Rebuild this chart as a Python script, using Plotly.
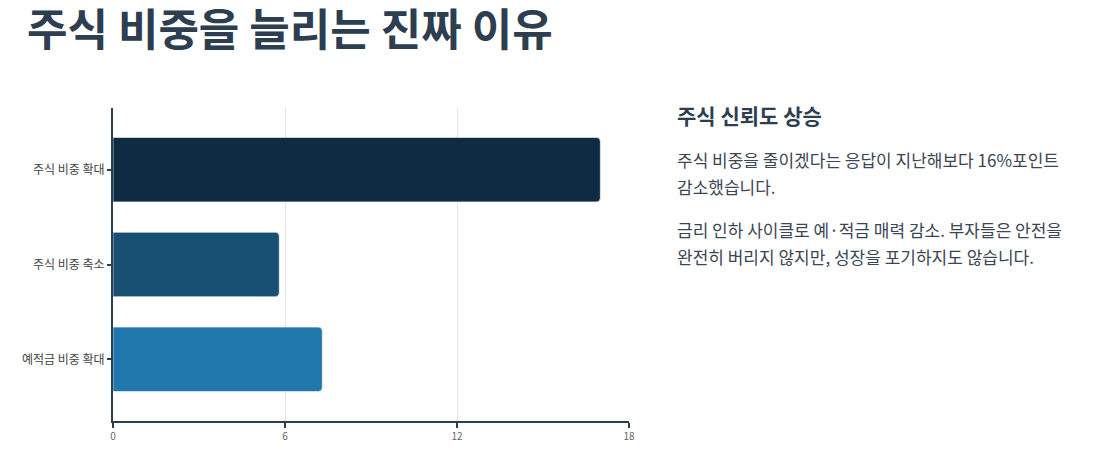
import plotly.graph_objects as go

categories = ["주식 비중 확대", "주식 비중 축소", "예적금 비중 확대"]
values = [17.0, 5.8, 7.3]
bar_colors = ["#0d2b42", "#175073", "#2077ab"]
x_ticks = [0, 6, 12, 18]

title = "주식 비중을 늘리는 진짜 이유"
side_heading = "주식 신뢰도 상승"
side_lines = [
    "주식 비중을 줄이겠다는 응답이 지난해보다 16%포인트",
    "감소했습니다.",
    "금리 인하 사이클로 예·적금 매력 감소. 부자들은 안전을",
    "완전히 버리지 않지만, 성장을 포기하지도 않습니다.",
]
side_line_y = [0.837, 0.748, 0.613, 0.524]

font_kr = "Noto Sans CJK KR"
dark = "#2c3e50"

fig = go.Figure()

fig.add_trace(go.Bar(
    x=values,
    y=categories,
    orientation="h",
    width=0.68,
    marker=dict(color=bar_colors, cornerradius=4,
                line=dict(color="rgba(255,255,255,0.6)", width=1)),
    hoverinfo="x+y",
))

fig.update_layout(
    width=1096, height=470,
    margin=dict(l=105, r=475, t=100, b=57),
    paper_bgcolor="white", plot_bgcolor="white",
    font=dict(family=font_kr, color=dark),
    showlegend=False,
    title=dict(text="<b>" + title + "</b>", x=0.0173, xanchor="left",
               xref="container", yref="container",
               y=0.953, yanchor="middle",
               font=dict(size=44, family=font_kr, color=dark)),
    xaxis=dict(range=[0, 18], tickvals=x_ticks, showgrid=True,
               gridcolor="#e3e3e3", gridwidth=1, zeroline=False,
               showline=True, linecolor=dark, linewidth=2,
               ticks="outside", ticklen=5, tickwidth=2, tickcolor=dark,
               tickfont=dict(size=10, color="#666666")),
    yaxis=dict(categoryorder="array", categoryarray=categories,
               range=[2.65, -0.65], showgrid=False, zeroline=False,
               showline=True, linecolor=dark, linewidth=2,
               ticks="outside", ticklen=4, tickwidth=2, tickcolor=dark,
               tickfont=dict(size=12, color="#444444")),
)

fig.add_annotation(xref="paper", yref="paper", x=1.089, y=0.978,
                   xanchor="left", yanchor="middle", showarrow=False,
                   text="<b>" + side_heading + "</b>", align="left",
                   font=dict(size=21, family=font_kr, color=dark))
for line, ly in zip(side_lines, side_line_y):
    fig.add_annotation(xref="paper", yref="paper", x=1.089, y=ly,
                       xanchor="left", yanchor="middle", showarrow=False,
                       text=line, align="left",
                       font=dict(size=17, family=font_kr, color="#3a4654"))

fig.write_html("out.html")
